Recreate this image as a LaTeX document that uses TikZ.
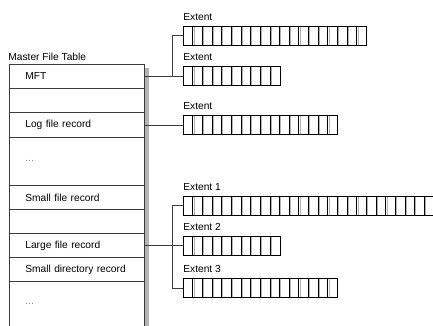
\documentclass[tikz,border=0pt]{standalone}
\usepackage{fontspec}
\setmainfont{Liberation Sans}
\definecolor{mftline}{RGB}{60,60,60}
\definecolor{mftshade}{RGB}{180,180,180}
\usetikzlibrary{positioning,calc}

\tikzset{
  mftrow/.style={draw=mftline, anchor=north west, inner xsep=16pt, inner ysep=0pt, text width=103pt, align=left, font=\fontsize{10.2}{12}\selectfont},
  extbox/.style={draw=black, anchor=north west, minimum height=19pt, inner sep=0pt},
  extlabel/.style={anchor=west, inner sep=0pt, font=\fontsize{10.2}{12}\selectfont},
  link/.style={draw=mftline, line width=0.8pt}
}

\begin{document}
\begin{tikzpicture}[x=1pt, y=-1pt, line width=0.8pt]
  \useasboundingbox (0,0) rectangle (433,326);

  % Master file table
  \node[anchor=west, inner sep=0pt, font=\fontsize{10.2}{12}\selectfont] (title) at (8,57) {Master File Table};
  \fill[mftshade] (145,68) rectangle (149,326);
  \node[mftrow, minimum height=24pt] (mft) at (9,64) {MFT};
  \node[mftrow, minimum height=24pt] (blanka) at (9,88) {};
  \node[mftrow, minimum height=25pt] (log) at (9,112) {Log file record};
  \node[mftrow, minimum height=48pt, text=gray] (dotsa) at (9,137) {...};
  \node[mftrow, minimum height=24pt] (small) at (9,185) {Small file record};
  \node[mftrow, minimum height=24pt] (blankb) at (9,209) {};
  \node[mftrow, minimum height=24pt] (large) at (9,233) {Large file record};
  \node[mftrow, minimum height=24pt] (smalldir) at (9,257) {Small directory record};
  \node[mftrow, draw=none, minimum height=45pt, text=gray] (dotsb) at (9,281) {...};
  \draw[mftline] (dotsb.south west) -- (dotsb.north west) -- (dotsb.north east) -- (dotsb.south east);

  % Extents
  \foreach \name/\top/\cells/\txt in {mfta/26/19/Extent, mftb/66.5/10/Extent, loga/114.8/16/Extent,
                                       largea/195.7/27/Extent 1, largeb/236/10/Extent 2, largec/278.3/16/Extent 3} {
    \node[extbox, minimum width=\cells*9.65pt] (\name) at (183,\top) {};
    \pgfmathtruncatemacro{\lastcell}{\cells-1}
    \foreach \i in {1,...,\lastcell} {
      \draw[mftshade, line width=0.7pt] ($(\name.north west)+(\i*9.65+1.2,0.8)$) -- ($(\name.south west)+(\i*9.65+1.2,-0.8)$);
      \draw[black, line width=0.7pt] ($(\name.north west)+(\i*9.65,0)$) -- ($(\name.south west)+(\i*9.65,0)$);
    }
    \node[extlabel] (\name-lbl) at ($(\name.north west)+(0,-9)$) {\txt};
  }

  % Connectors
  \coordinate (mftfork) at (172,0);
  \draw[link] (mft.east) -- (mft.east -| mftb.west);
  \draw[link] (mftfork |- mft.east) -- (mftfork |- mfta.west) -- (mfta.west);
  \draw[link] (log.east) -- (log.east -| loga.west);
  \draw[link] (large.east) -- (large.east -| largeb.west);
  \draw[link] (largea.west) -- (mftfork |- largea.west) -- (mftfork |- largec.west) -- (largec.west);
\end{tikzpicture}
\end{document}
